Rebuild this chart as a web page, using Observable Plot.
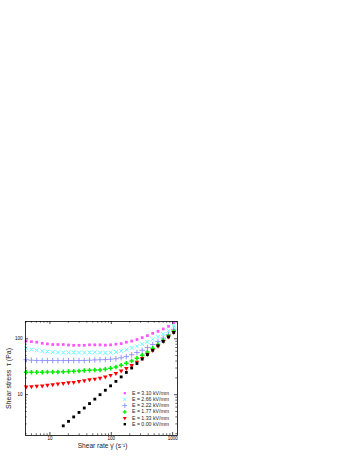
<!DOCTYPE html>
<html><head><meta charset="utf-8">
<script src="https://cdn.jsdelivr.net/npm/d3@7"></script>
<script src="https://cdn.jsdelivr.net/npm/@observablehq/plot@0.6"></script>
<style>body{margin:0;background:#fff}#chart{width:353px;height:457px}</style>
</head><body><div id="chart"></div>
<script>
// Shear rate (s^-1), shared x grid
const shearRate = [4.1, 5.0, 6.1, 7.5, 9.1, 11.1, 13.5, 16.5, 20.1, 24.4, 29.8, 36.3, 44.2, 53.9, 65.6, 80, 97.4, 119, 145, 176, 215, 262, 319, 388, 473, 577, 703, 856, 1042];
// Shear stress (Pa) per field strength
const tau310 = [91, 89, 87, 83, 81, 79, 79, 79, 77.5, 76.5, 76.5, 76.5, 78, 78, 78, 77, 78, 80, 82, 87, 91, 97, 105, 114, 125, 136, 150, 167, 195];
const tau266 = [68, 64, 62, 60, 59, 57.4, 57, 56.7, 56.7, 56.7, 56.7, 56.7, 56.7, 57.4, 56.7, 55.8, 56.7, 58, 60.5, 64, 68.5, 73.4, 80, 88, 98, 109, 122, 140, 171];
const tau222 = [42.2, 41.3, 40.8, 40.8, 40.8, 40.8, 40.8, 40.8, 40.8, 40.8, 40.8, 40.8, 41.3, 41.8, 42.2, 42.5, 43.1, 44, 45.8, 48.1, 51.8, 56.7, 62.3, 69.7, 78.8, 89.1, 103, 120, 148];
const tau177 = [25.2, 25.2, 25.2, 25.2, 25.5, 25.5, 25.5, 25.7, 26.0, 26.3, 26.6, 27.1, 27.4, 27.7, 27.7, 28.5, 29.7, 31.4, 33.6, 36.5, 40.2, 44.9, 50.7, 58.1, 67.6, 78.8, 94, 112, 138];
const tau133 = [13.8, 14.0, 14.2, 14.4, 14.8, 15.2, 15.6, 15.9, 16.5, 16.7, 17.4, 17.9, 18.7, 19.1, 19.9, 20.8, 22.3, 24.2, 26.6, 29.7, 33.6, 38.5, 44.9, 52.8, 62.3, 74.3, 90.2, 108, 131];
// 0.00 kV/mm measured from the 8th shear rate onward
const tau000 = [2.77, 3.33, 4.0, 4.81, 5.77, 6.93, 8.33, 10.0, 12.0, 14.4, 17.3, 20.8, 25.0, 30.0, 36.1, 43.4, 52.1, 62.5, 75.1, 90.2, 108, 130];
const tau000Start = 7;

const seriesLabels = ["E = 3.10 kV/mm", "E = 2.66 kV/mm", "E = 2.22 kV/mm", "E = 1.77 kV/mm", "E = 1.33 kV/mm", "E = 0.00 kV/mm"];
const xTickLabels = [10, 100, 1000];
const yTickLabels = [10, 100];
const xMinor = [5,6,7,8,9,20,30,40,50,60,70,80,90,200,300,400,500,600,700,800,900];
const yMinor = [2,3,4,5,6,7,8,9,20,30,40,50,60,70,80,90,200];

const triDown = {draw(ctx, size) {
  const s = Math.sqrt(size / 0.433);
  const h = s * Math.sqrt(3) / 2;
  ctx.moveTo(-s/2, -h/3);
  ctx.lineTo(s/2, -h/3);
  ctx.lineTo(0, 2*h/3);
  ctx.closePath();
}};

const styles = [
  {symbol: "square", fill: "#ff55ff", r: 1.55},
  {symbol: "times", stroke: "#66ffff", r: 1.9, strokeWidth: 1},
  {symbol: "plus", stroke: "#8c8cff", r: 1.9, strokeWidth: 0.9},
  {symbol: "cross", fill: "#00ee00", r: 1.9},
  {symbol: triDown, fill: "#ff0000", r: 1.7},
  {symbol: "square", fill: "#000000", r: 1.6}
];
const seriesValues = [tau310, tau266, tau222, tau177, tau133];

const W = 353, H = 457;
const mL = 25, mR = W - 177, mT = 321, mB = H - 435;
const pw = W - mL - mR, ph = H - mT - mB;

const marks = [];
seriesValues.forEach((vals, s) => {
  const rows = vals.map((v, i) => ({x: shearRate[i], y: v}));
  marks.push(Plot.dot(rows, {x: "x", y: "y", ...styles[s]}));
});
marks.push(Plot.dot(tau000.map((v, k) => ({x: shearRate[k + tau000Start], y: v})), {x: "x", y: "y", ...styles[5]}));

// inward ticks on all four sides
const majT = 3, minT = 1.7;
marks.push(
  Plot.ruleX(xTickLabels, {x: d => d, insetTop: ph - majT, strokeWidth: 0.7}),
  Plot.ruleX(xTickLabels, {x: d => d, insetBottom: ph - majT, strokeWidth: 0.7}),
  Plot.ruleX(xMinor, {x: d => d, insetTop: ph - minT, strokeWidth: 0.6}),
  Plot.ruleX(xMinor, {x: d => d, insetBottom: ph - minT, strokeWidth: 0.6}),
  Plot.ruleY(yTickLabels, {y: d => d, insetRight: pw - majT, strokeWidth: 0.7}),
  Plot.ruleY(yTickLabels, {y: d => d, insetLeft: pw - majT, strokeWidth: 0.7}),
  Plot.ruleY(yMinor, {y: d => d, insetRight: pw - minT, strokeWidth: 0.6}),
  Plot.ruleY(yMinor, {y: d => d, insetLeft: pw - minT, strokeWidth: 0.6}),
  Plot.frame({stroke: "#000", strokeWidth: 0.8}),
  Plot.axisX({ticks: xTickLabels, tickSize: 0, tickPadding: 1, fontSize: 4.5, tickFormat: d => String(d), label: null}),
  Plot.axisY({ticks: yTickLabels, tickSize: 0, tickPadding: 3, fontSize: 4.5, tickFormat: d => String(d), label: null}),
  Plot.text(["Shear rate \u03B3\u0307 (s\u207B\u00B9)"], {frameAnchor: "bottom", dy: 10, dx: 1, fontSize: 6.6, fill: "#222", textAnchor: "middle", lineAnchor: "middle"}),
  Plot.text(["Shear stress  \u03C4 (Pa)"], {frameAnchor: "left", dx: -17, rotate: -90, fontSize: 7, fill: "#222", textAnchor: "middle", lineAnchor: "middle"})
);

// legend inside lower right
seriesLabels.forEach((lab, k) => {
  const dy = 71.7 + 6.2 * k;
  marks.push(Plot.dot([lab], {frameAnchor: "top-left", dx: 99.3, dy, ...styles[k], r: styles[k].r * 0.85}));
  marks.push(Plot.text([lab], {frameAnchor: "top-left", dx: 106.5, dy, text: d => d, textAnchor: "start", lineAnchor: "middle", fontSize: 5.2, fill: "#222"}));
});

const chart = Plot.plot({
  width: W, height: H,
  marginLeft: mL, marginRight: mR, marginTop: mT, marginBottom: mB,
  style: {fontFamily: "Liberation Sans, Arial, sans-serif", background: "#fff", color: "#000"},
  x: {type: "log", domain: [4, 1200], axis: null},
  y: {type: "log", domain: [1.86, 204], axis: null},
  marks
});
document.getElementById("chart").append(chart);
</script>
</body></html>
